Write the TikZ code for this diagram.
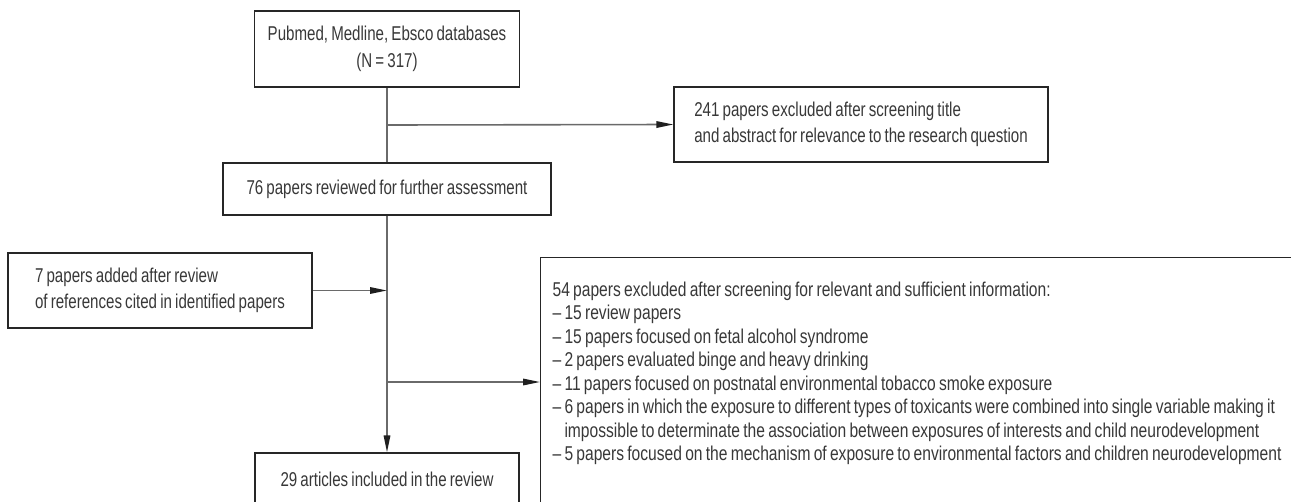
\documentclass[tikz,border=0pt]{standalone}
\usepackage{fontspec}
\setmainfont{Liberation Sans}[FakeStretch=0.755,WordSpace=0.75]
\newfontfamily\widerfont{Liberation Sans}[Ligatures=TeX,FakeStretch=0.78,WordSpace=0.75]
\usetikzlibrary{arrows.meta}
\definecolor{txt}{HTML}{383838}
\definecolor{boxline}{HTML}{262626}
\definecolor{connc}{HTML}{6A6A6A}
\begin{document}
\begin{tikzpicture}[x=1pt,y=-1pt,
  box/.style={draw=boxline, line width=1.2pt, text=txt, inner sep=0pt,
              align=left, font=\fontsize{20}{26.5}\selectfont},
  cbox/.style={box, align=center},
  conn/.style={draw=connc, line width=1.6pt},
  arr/.style={conn, -{Triangle[length=17pt,width=6.5pt,color=black!88]}}]
\useasboundingbox (0,0) rectangle (1291,501);
\clip (0,0) rectangle (1291,501);

\node[cbox, minimum width=265pt, minimum height=76pt] (src) at (387,49)
  {Pubmed, Medline, Ebsco databases\\(N = 317)};
\node[box, minimum width=374pt, minimum height=75pt] (excl1) at (861,124.5)
  {241 papers excluded after screening title\\and abstract for relevance to the research question};
\node[cbox, minimum width=328pt, minimum height=52pt] (rev) at (387,189)
  {76 papers reviewed for further assessment};
\node[box, minimum width=304pt, minimum height=75pt] (added) at (160,290.5)
  {7 papers added after review\\of references cited in identified papers};
\node[cbox, minimum width=264pt, minimum height=52pt] (final) at (387,479)
  {29 articles included in the review};
\node[box, anchor=north west, inner xsep=12pt, inner ysep=24pt,
      text depth=240pt, font=\widerfont\fontsize{20}{23.5}\selectfont] (excl2) at (540,257)
  {\makebox[780pt][l]{54 papers excluded after screening for relevant and sufficient information:}\\
   – 15 review papers\\
   – 15 papers focused on fetal alcohol syndrome\\
   – 2 papers evaluated binge and heavy drinking\\
   – 11 papers focused on postnatal environmental tobacco smoke exposure\\
   – 6 papers in which the exposure to different types of toxicants were combined into single variable making it\\
   \hphantom{– }impossible to determinate the association between exposures of interests and child neurodevelopment\\
   – 5 papers focused on the mechanism of exposure to environmental factors and children neurodevelopment};

\coordinate (b0) at (387,125);
\coordinate (b1) at (387,290.5);
\coordinate (b2) at (387,382);

\draw[conn] (src.south) -- (rev.north);
\draw[arr] (b0) -- (excl1.west);
\draw[arr] (rev.south) -- (final.north);
\draw[arr] (added.east) -- (b1);
\draw[arr] (b2) -- (b2 -| excl2.west);
\end{tikzpicture}
\end{document}
